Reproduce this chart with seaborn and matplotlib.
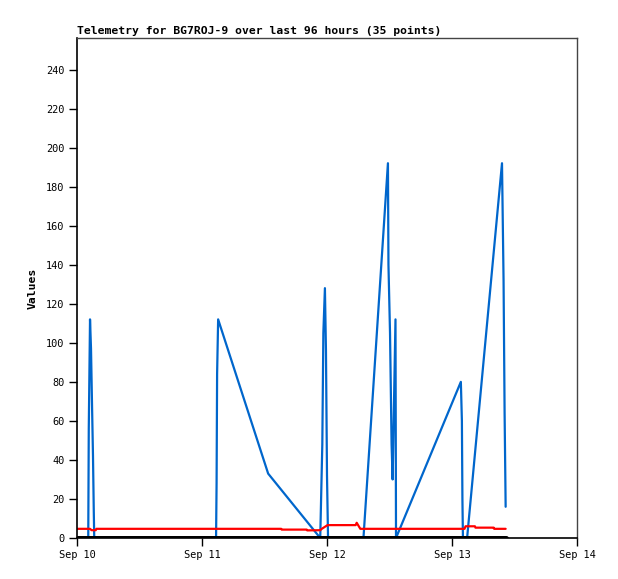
import numpy as np
import pandas as pd
import matplotlib
matplotlib.use("Agg")
import matplotlib.pyplot as plt
import matplotlib.dates as mdates
import seaborn as sns

# ---- data (hours since Sep 10 00:00) ----
blue_hours = [0.0, 2.16, 2.26, 2.5, 2.69, 2.88, 3.07, 3.22, 3.31,
              26.7, 26.8, 26.9, 27.1, 36.7, 46.7, 47.1, 47.3, 47.6, 47.8, 48.0, 48.2,
              55.0, 59.7, 59.8, 60.1, 60.4, 60.6, 61.15, 61.25,
              73.7, 73.9, 74.0, 74.1, 74.9, 81.6, 81.7, 81.9, 82.1, 82.3]
blue_vals = [0, 0, 56, 112, 97, 69, 42, 14, 0,
             0, 28, 84, 112, 33, 0, 48, 105, 128, 96, 32, 0,
             0, 192, 140, 105, 48, 30, 112, 0,
             80, 60, 20, 0, 0, 192, 172, 132, 64, 16]

red_hours = [0.0, 2.5, 2.8, 3.6, 3.7, 39.2, 39.3, 44.1, 44.2, 46.7, 47.0,
             48.1, 53.5, 53.7, 54.4, 74.4, 74.6, 76.4, 76.5, 80.0, 80.1, 82.3]
red_vals = [4.7, 4.7, 4.0, 4.0, 4.7, 4.7, 4.3, 4.3, 3.9, 4.0, 4.7,
            6.6, 6.6, 7.8, 4.7, 4.7, 6.0, 6.0, 5.3, 5.3, 4.7, 4.7]

black_hours = [0.0, 82.3]
black_vals = [0, 0]

title = "Telemetry for BG7ROJ-9 over last 96 hours (35 points)"
ylabel = "Values"
base = pd.Timestamp("2024-09-10 00:00")

def frame(hours, vals):
    return pd.DataFrame({"time": base + pd.to_timedelta(hours, unit="h"), "value": vals})

sns.set_style("ticks")
plt.rcParams["font.family"] = ["DejaVu Sans Mono"]
plt.rcParams["text.color"] = "black"
plt.rcParams["axes.labelcolor"] = "black"
plt.rcParams["xtick.color"] = "black"
plt.rcParams["ytick.color"] = "black"

fig = plt.figure(figsize=(6.18, 5.79), dpi=100)
ax = fig.add_axes([77/618, 1-538/579, 500/618, (538-38.3)/579])

sns.lineplot(data=frame(blue_hours, blue_vals), x="time", y="value", ax=ax,
             color="#0066CC", linewidth=1.6, estimator=None, sort=False)
sns.lineplot(data=frame(red_hours, red_vals), x="time", y="value", ax=ax,
             color="#FF0000", linewidth=1.6, estimator=None, sort=False)
sns.lineplot(data=frame(black_hours, black_vals), x="time", y="value", ax=ax,
             color="#000000", linewidth=3.6, estimator=None, sort=False, zorder=5)

ax.set_xlim(base, base + pd.Timedelta(days=4))
ax.set_ylim(0, 256)
ax.set_yticks(np.arange(0, 241, 20))
ax.xaxis.set_major_locator(mdates.DayLocator())
ax.xaxis.set_major_formatter(mdates.DateFormatter("%b %d"))

ax.set_xlabel("")
ax.set_ylabel(ylabel, fontsize=8.2, fontweight="bold", labelpad=6, color="black")
ax.set_title(title, loc="left", fontsize=8.2, fontweight="bold", pad=3, color="black")

ax.tick_params(axis="both", labelsize=7.4, length=6, width=1, color="black",
               labelcolor="black", pad=3)
for s in ["left", "bottom"]:
    ax.spines[s].set_color("black")
    ax.spines[s].set_linewidth(1.2)
for s in ["top", "right"]:
    ax.spines[s].set_color("#444444")
    ax.spines[s].set_linewidth(1.0)
ax.grid(False)

fig.savefig("out.png", dpi=100)
